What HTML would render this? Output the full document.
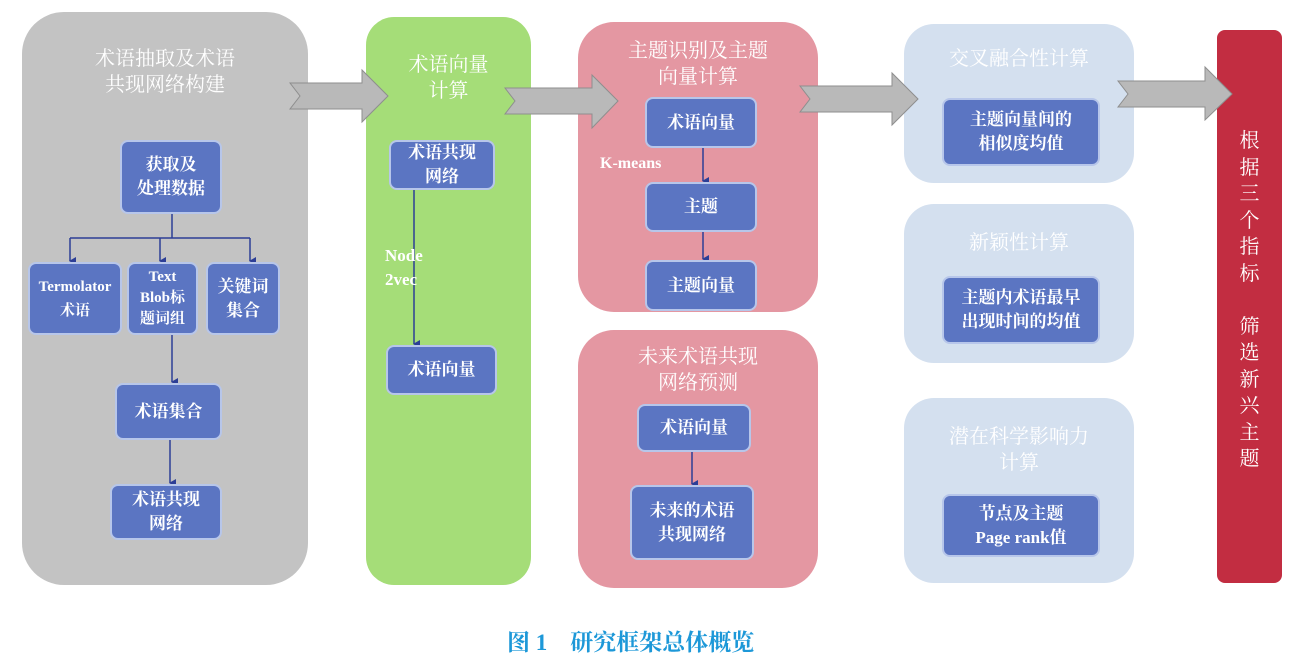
<!DOCTYPE html>
<html><head><meta charset="utf-8"><style>
body{margin:0;width:1305px;height:664px;background:#fff;position:relative;overflow:hidden;font-family:"Liberation Serif","Noto Serif CJK SC","Noto Sans CJK SC",serif;}
.p{position:absolute;}
.panel{position:absolute;}
.b{position:absolute;background:#5b75c2;border:2px solid #b7c6ea;border-radius:8px;color:#fff;font-size:17px;line-height:24px;display:flex;align-items:center;justify-content:center;text-align:center;box-sizing:border-box;font-weight:bold;}
.t{position:absolute;color:#fff;font-size:20px;line-height:26px;text-align:center;}
.lbl{position:absolute;color:#fff;font-size:17px;font-weight:bold;line-height:24px;}
</style></head><body>
<div class="panel" style="left:22px;top:12px;width:286px;height:573px;background:#c3c3c3;border-radius:42px;"></div>
<div class="panel" style="left:366px;top:17px;width:165px;height:568px;background:#a5dd78;border-radius:28px;"></div>
<div class="panel" style="left:578px;top:22px;width:240px;height:290px;background:#e497a2;border-radius:36px;"></div>
<div class="panel" style="left:578px;top:330px;width:240px;height:258px;background:#e497a2;border-radius:36px;"></div>
<div class="panel" style="left:904px;top:24px;width:230px;height:159px;background:#d4e0ef;border-radius:30px;"></div>
<div class="panel" style="left:904px;top:204px;width:230px;height:159px;background:#d4e0ef;border-radius:30px;"></div>
<div class="panel" style="left:904px;top:398px;width:230px;height:185px;background:#d4e0ef;border-radius:30px;"></div>
<div class="panel" style="left:1217px;top:30px;width:65px;height:553px;background:#c22d41;border-radius:8px;"></div>

<svg class="p" style="left:0;top:0" width="1305" height="664">
<defs><marker id="a" markerWidth="8" markerHeight="8" refX="4" refY="6" orient="auto" markerUnits="userSpaceOnUse"><path d="M0,0 L8,0 L4,7 z" fill="#2c3e96"/></marker></defs>
<g fill="#b9b9b9" stroke="#8e8e8e" stroke-width="1">
<polygon points="290,83 362,83 362,70 388,96 362,122 362,109 290,109 300,96"/>
<polygon points="505,88 592,88 592,75 618,101 592,128 592,114 505,114 515,101"/>
<polygon points="800,86 892,86 892,73 918,99 892,125 892,112 800,112 810,99"/>
<polygon points="1118,81 1205,81 1205,67 1232,94 1205,120 1205,107 1118,107 1128,94"/>
</g>
<g stroke="#2c3e96" stroke-width="1.5" fill="none">
<line x1="172" y1="214" x2="172" y2="238"/>
<line x1="70" y1="238" x2="250" y2="238"/>
<line x1="70" y1="238" x2="70" y2="261" marker-end="url(#a)"/>
<line x1="160" y1="238" x2="160" y2="261" marker-end="url(#a)"/>
<line x1="250" y1="238" x2="250" y2="261" marker-end="url(#a)"/>
<line x1="172" y1="335" x2="172" y2="382" marker-end="url(#a)"/>
<line x1="170" y1="440" x2="170" y2="483" marker-end="url(#a)"/>
<line x1="414" y1="190" x2="414" y2="344" marker-end="url(#a)"/>
<line x1="703" y1="148" x2="703" y2="181" marker-end="url(#a)"/>
<line x1="703" y1="232" x2="703" y2="259" marker-end="url(#a)"/>
<line x1="692" y1="452" x2="692" y2="484" marker-end="url(#a)"/>
</g>
</svg>

<div class="t" style="left:22px;top:46px;width:286px;">术语抽取及术语<br>共现网络构建</div>
<div class="t" style="left:366px;top:52px;width:165px;">术语向量<br>计算</div>
<div class="t" style="left:578px;top:38px;width:240px;">主题识别及主题<br>向量计算</div>
<div class="t" style="left:578px;top:344px;width:240px;">未来术语共现<br>网络预测</div>
<div class="t" style="left:904px;top:46px;width:230px;">交叉融合性计算</div>
<div class="t" style="left:904px;top:230px;width:230px;">新颖性计算</div>
<div class="t" style="left:904px;top:424px;width:230px;">潜在科学影响力<br>计算</div>
<div class="t" style="left:1217px;top:128px;width:65px;line-height:26.5px;">根<br>据<br>三<br>个<br>指<br>标<br><br>筛<br>选<br>新<br>兴<br>主<br>题</div>

<div class="b" style="left:120px;top:140px;width:102px;height:74px;">获取及<br>处理数据</div>
<div class="b" style="left:28px;top:262px;width:94px;height:73px;font-size:15px;">Termolator<br>术语</div>
<div class="b" style="left:127px;top:262px;width:71px;height:73px;font-size:15px;line-height:21px;">Text<br>Blob标<br>题词组</div>
<div class="b" style="left:206px;top:262px;width:74px;height:73px;">关键词<br>集合</div>
<div class="b" style="left:115px;top:383px;width:107px;height:57px;">术语集合</div>
<div class="b" style="left:110px;top:484px;width:112px;height:56px;">术语共现<br>网络</div>

<div class="b" style="left:389px;top:140px;width:106px;height:50px;">术语共现<br>网络</div>
<div class="lbl" style="left:385px;top:244px;">Node<br>2vec</div>
<div class="b" style="left:386px;top:345px;width:111px;height:50px;">术语向量</div>

<div class="b" style="left:645px;top:97px;width:112px;height:51px;">术语向量</div>
<div class="lbl" style="left:600px;top:152px;font-size:16px;">K-means</div>
<div class="b" style="left:645px;top:182px;width:112px;height:50px;">主题</div>
<div class="b" style="left:645px;top:260px;width:112px;height:51px;">主题向量</div>
<div class="b" style="left:637px;top:404px;width:114px;height:48px;">术语向量</div>
<div class="b" style="left:630px;top:485px;width:124px;height:75px;">未来的术语<br>共现网络</div>

<div class="b" style="left:942px;top:98px;width:158px;height:68px;">主题向量间的<br>相似度均值</div>
<div class="b" style="left:942px;top:276px;width:158px;height:68px;">主题内术语最早<br>出现时间的均值</div>
<div class="b" style="left:942px;top:494px;width:158px;height:63px;">节点及主题<br>Page rank值</div>

<div class="p" style="left:507px;top:624px;color:#1d98d8;font-size:23px;font-weight:bold;white-space:nowrap;">图 1&nbsp;&nbsp;&nbsp;&nbsp;研究框架总体概览</div>
</body></html>
